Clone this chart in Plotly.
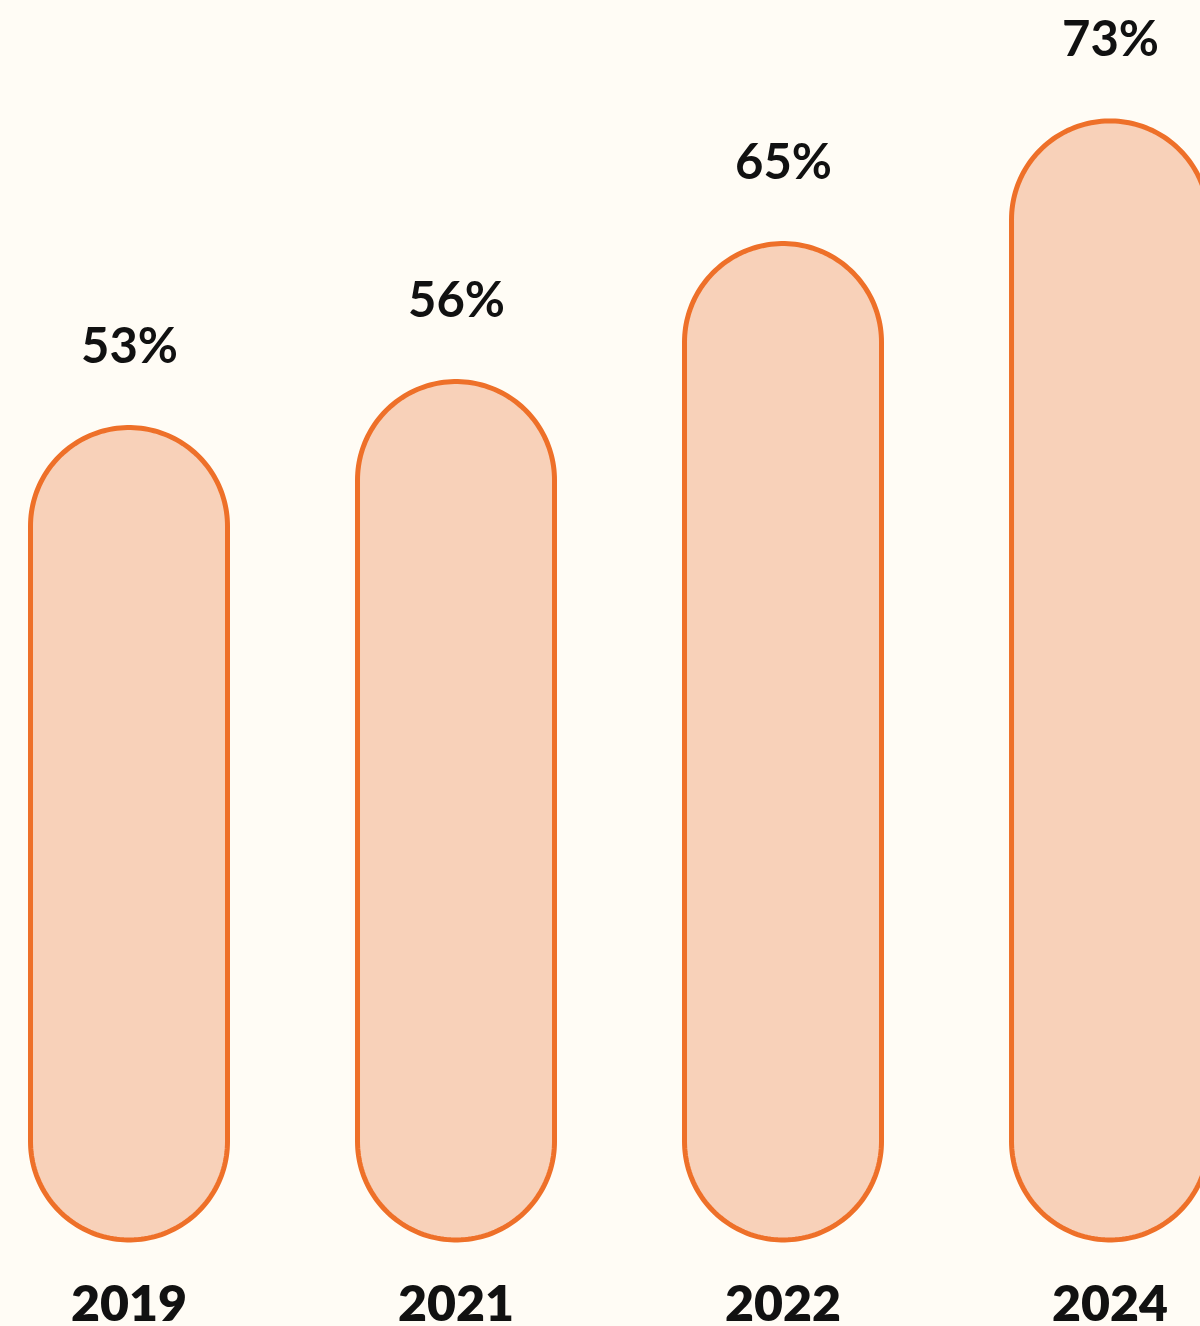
import numpy as np
import plotly.graph_objects as go

# ---- data ----
years = ["2019", "2021", "2022", "2024"]
values = [53, 56, 65, 73]
value_labels = ["53%", "56%", "65%", "73%"]

# ---- layout constants ----
W, H = 1200, 1326
BG = "#FFFCF5"
FILL = "#F8D1B9"
STROKE = "#EE7029"
TEXT = "#111111"

x_range = [-0.3945, 3.2752]
y_range = [-5.61, 80.89]
px_per_x = W / (x_range[1] - x_range[0])
px_per_y = H / (y_range[1] - y_range[0])
half_w = 0.3012                      # half bar width in x units
ry = half_w * px_per_x / px_per_y    # radius of rounded ends in y units

fig = go.Figure()

theta_top = np.linspace(np.pi, 0, 90)
theta_bot = np.linspace(0, -np.pi, 90)
for i, v in enumerate(values):
    xs = np.concatenate([
        [i - half_w],
        i + half_w * np.cos(theta_top),
        i + half_w * np.cos(theta_bot),
        [i - half_w],
    ])
    ys = np.concatenate([
        [ry],
        (v - ry) + ry * np.sin(theta_top),
        ry + ry * np.sin(theta_bot),
        [ry],
    ])
    fig.add_trace(go.Scatter(
        x=xs, y=ys, mode="lines", fill="toself",
        fillcolor=FILL, line=dict(color=STROKE, width=5, simplify=False),
        hoverinfo="skip", showlegend=False,
    ))

for i, (v, lab) in enumerate(zip(values, value_labels)):
    fig.add_annotation(
        x=i, y=v, text=lab, showarrow=False, yanchor="middle",
        yshift=84, font=dict(family="Lato", size=49, color=TEXT, weight=700),
    )

for i, yr in enumerate(years):
    fig.add_annotation(
        x=i, y=0, text=yr, showarrow=False, yanchor="middle",
        yshift=-62, font=dict(family="Lato", size=50, color=TEXT, weight=800),
    )

fig.update_layout(
    width=W, height=H,
    margin=dict(l=0, r=0, t=0, b=0),
    paper_bgcolor=BG, plot_bgcolor=BG,
    xaxis=dict(range=x_range, visible=False, fixedrange=True),
    yaxis=dict(range=y_range, visible=False, fixedrange=True),
    showlegend=False,
)

fig.write_html(
    "out.html",
    config={"displayModeBar": False},
    post_script="document.body.style.margin='0';document.body.style.background='" + BG + "';",
)
